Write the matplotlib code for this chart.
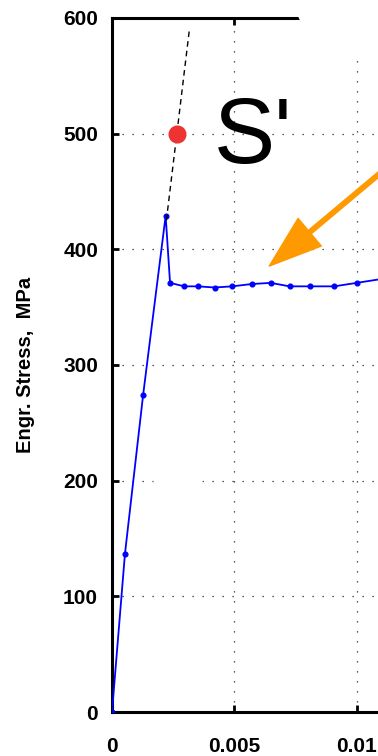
import numpy as np
import matplotlib.pyplot as plt
from matplotlib.patches import Ellipse

plt.rcParams['font.family'] = ['Liberation Sans', 'DejaVu Sans']

# stress-strain data
strain = [0, 0.00053, 0.00127, 0.00219, 0.00237, 0.00295, 0.0035, 0.00419, 0.00491,
          0.0057, 0.00648, 0.00725, 0.00808, 0.00907, 0.00999, 0.0115]
stress = [0, 137, 274, 429, 371, 368, 368, 367, 368, 370, 371, 368, 368, 368, 371, 376]

# elastic extension (dashed) and the S' point
elastic_x = [0.00222, 0.00316]
elastic_y = [425, 590]
s_point = (0.00265, 500)

xticks = [0, 0.005, 0.01]
xtick_labels = ['0', '0.005', '0.01']
yticks = [0, 100, 200, 300, 400, 500, 600]

fig = plt.figure(figsize=(3.78, 7.56), dpi=100)
ax = fig.add_axes([112 / 378, 44 / 756, 1 - 112 / 378, 694 / 756])

ax.plot(strain, stress, color='#0000ff', lw=1.3, marker='o', ms=3.4, zorder=3)
ax.plot(elastic_x, elastic_y, color='black', lw=1.0, ls=(0, (4, 3)), zorder=3)
ax.plot(*s_point, 'o', color='#ee3333', ms=12, zorder=4)

ax.text(0.00578, 495, "S'", fontsize=66, ha='center', va='center')

ax.annotate('', xy=(0.00642, 385.5), xytext=(0.0118, 481),
            arrowprops=dict(arrowstyle='simple,head_length=3.8,head_width=2.6,tail_width=0.32',
                            mutation_scale=10, color='#ff9900', shrinkA=0, shrinkB=0),
            annotation_clip=False)

ax.set_xlim(0, 0.01086)
ax.set_ylim(0, 600)
ax.set_xticks(xticks)
ax.set_xticklabels(xtick_labels)
ax.set_yticks(yticks)
ax.grid(True, color='#222222', ls=(0, (1, 7)), lw=0.9)
ax.tick_params(direction='in', length=5, width=2, top=True, labelsize=15)
ax.tick_params(axis='x', pad=18)
ax.tick_params(axis='y', pad=10)
for lab in ax.get_xticklabels() + ax.get_yticklabels():
    lab.set_fontweight('bold')
for side in ['left', 'bottom', 'top']:
    ax.spines[side].set_linewidth(2.2)
ax.spines['right'].set_visible(False)

ax.set_ylabel('Engr. Stress,  MPa', fontsize=14.5, fontweight='bold', labelpad=20)

# white blotches on the original picture
fig.add_artist(Ellipse((372 / 378, 1 - 5 / 756), 150 / 378, 100 / 756,
                       transform=fig.transFigure, color='white', zorder=10))
fig.add_artist(Ellipse((178 / 378, 1 - 478 / 756), 48 / 378, 45 / 756,
                       transform=fig.transFigure, color='white', zorder=10))
fig.add_artist(Ellipse((180 / 378, 1 - 515 / 756), 58 / 378, 38 / 756,
                       transform=fig.transFigure, color='white', zorder=10))

fig.savefig('out.png', dpi=100)
